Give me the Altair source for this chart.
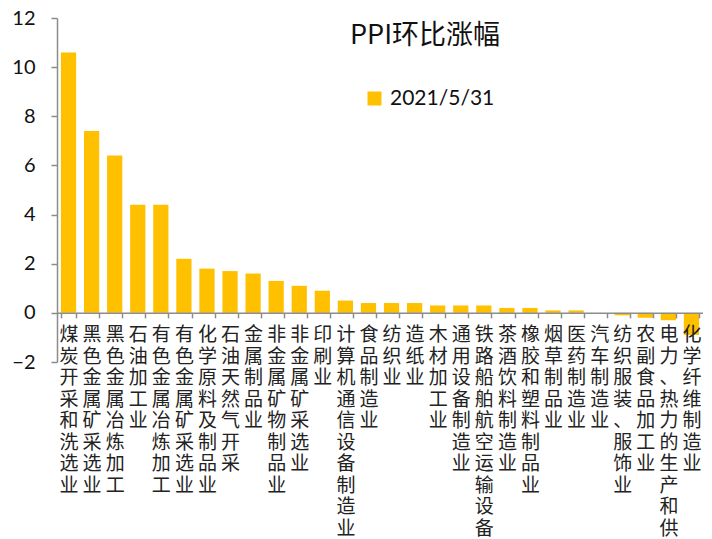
import altair as alt
import pandas as pd

categories = [
    "煤炭开采和洗选业", "黑色金属矿采选业", "黑色金属冶炼加工", "石油加工业",
    "有色金属冶炼加工", "有色金属矿采选业", "化学原料及制品业", "石油天然气开采",
    "金属制品业", "非金属矿物制品业", "非金属矿采选业", "印刷业",
    "计算机通信设备制造业", "食品制造业", "纺织业", "造纸业",
    "木材加工业", "通用设备制造业", "铁路船舶航空运输设备", "茶酒饮料制造业",
    "橡胶和塑料制品业", "烟草制品业", "医药制造业", "汽车制造业",
    "纺织服装、服饰业", "农副食品加工业", "电力、热力的生产和供应业", "化学纤维制造业",
]
values = [
    10.6, 7.4, 6.4, 4.4,
    4.4, 2.2, 1.8, 1.7,
    1.6, 1.3, 1.1, 0.9,
    0.5, 0.4, 0.4, 0.4,
    0.3, 0.3, 0.3, 0.2,
    0.2, 0.1, 0.1, 0.0,
    -0.1, -0.2, -0.3, -0.9,
]
series_name = "2021/5/31"
title_text = "PPI环比涨幅"
y_ticks = [-2, 0, 2, 4, 6, 8, 10, 12]

df = pd.DataFrame({"cat": categories, "val": values, "series": [series_name] * len(values)})

W, H = 646, 344
zero_offset = -H * 2 / 14

bars = alt.Chart(df).mark_bar(color="#FFC000").encode(
    x=alt.X(
        "cat:N",
        sort=None,
        title=None,
        scale=alt.Scale(paddingInner=0.34, paddingOuter=0.17),
        axis=alt.Axis(
            offset=zero_offset,
            zindex=1,
            labelAngle=0,
            labelExpr="split(datum.label, '')",
            labelFont="Noto Sans CJK SC",
            labelFontSize=19,
            labelLineHeight=21.5,
            labelColor="#222222",
            labelPadding=8,
            labelBaseline="top",
            labelOverlap=False,
            labelBound=False,
            labelLimit=0,
            tickBand="extent",
            tickSize=5,
            tickColor="#8c8c8c",
            domainColor="#8c8c8c",
            domainWidth=1.5,
            tickWidth=1.5,
        ),
    ),
    y=alt.Y(
        "val:Q",
        title=None,
        scale=alt.Scale(domain=[-2, 12], nice=False, zero=False),
        axis=alt.Axis(
            values=y_ticks,
            grid=False,
            labelFont="Lato",
            labelFontSize=20,
            labelColor="#111111",
            labelPadding=16,
            tickSize=6,
            tickColor="#8c8c8c",
            domainColor="#8c8c8c",
            domainWidth=1.5,
            tickWidth=1.5,
        ),
    ),
    fill=alt.Fill(
        "series:N",
        title=None,
        scale=alt.Scale(range=["#FFC000"]),
        legend=alt.Legend(
            orient="none",
            legendX=307,
            legendY=70,
            symbolType="square",
            symbolSize=196,
            symbolStrokeWidth=0,
            labelFont="Lato",
            labelFontSize=21,
            labelColor="#111111",
            labelOffset=5,
        ),
    ),
)

title_layer = alt.Chart(pd.DataFrame({"t": [title_text]})).mark_text(
    font="Noto Sans CJK SC", fontSize=27, color="#111111", align="center", baseline="middle"
).encode(text="t:N", x=alt.value(368), y=alt.value(18))

chart = alt.layer(bars, title_layer).properties(
    width=W, height=H, padding={"left": 3, "top": 0, "right": 0, "bottom": 0}
).configure_view(stroke=None)

chart.save("out.html", embed_options={"renderer": "svg", "actions": False})
